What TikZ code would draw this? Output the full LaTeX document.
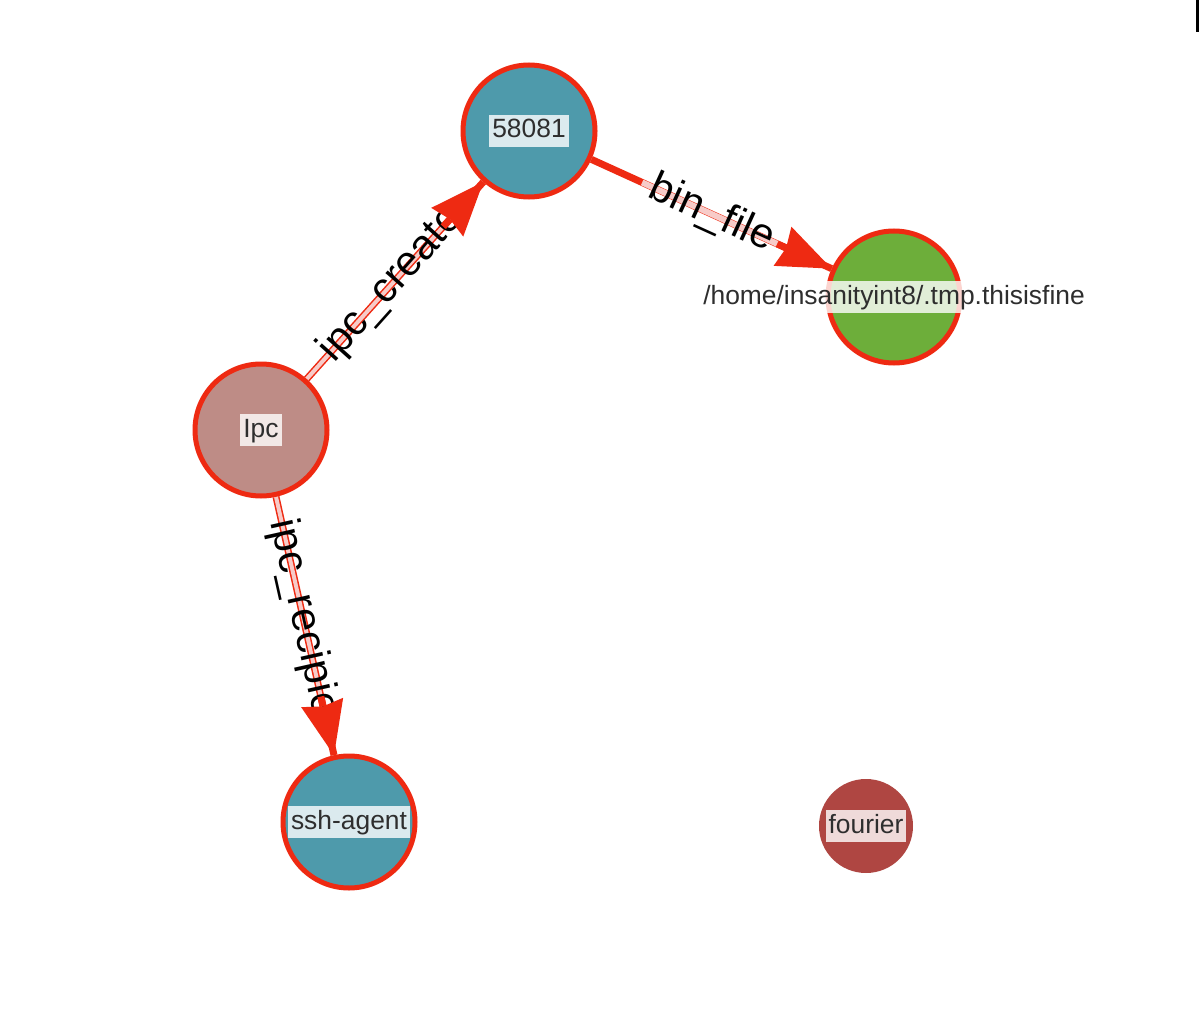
\documentclass[tikz,border=0pt]{standalone}
\usepackage{fontspec}
\setmainfont{Liberation Sans}
\usetikzlibrary{arrows.meta,calc}
\definecolor{edgered}{HTML}{EE2A12}
\definecolor{nodeteal}{HTML}{4E9AAB}
\definecolor{nodegreen}{HTML}{6DAE3A}
\definecolor{nodeipc}{HTML}{BE8C86}
\definecolor{nodefourier}{HTML}{AF4642}
\definecolor{bandpink}{HTML}{F7CBC8}
\definecolor{labelgray}{HTML}{2E2E2E}
\begin{document}
\begin{tikzpicture}[x=1pt,y=-1pt,
  vert/.style={circle, draw=edgered, line width=5pt, minimum size=132pt, inner sep=0pt},
  lbl/.style={fill=white, fill opacity=0.8, text opacity=1, text=labelgray,
    font=\fontsize{26.4}{30}\selectfont, inner xsep=3pt, inner ysep=3pt,
    text height=20pt, text depth=6pt},
  edgeline/.style={draw=edgered, line width=7pt},
  band/.style={draw=bandpink, line width=4pt},
  elabel/.style={font=\fontsize{42}{48}\selectfont, text=black, inner sep=0pt, sloped},
  tip/.style={draw=edgered, fill=edgered, line width=7pt,
    -{Stealth[length=54pt,width=43pt,inset=4pt,line width=0pt]}}
]
\useasboundingbox (0,0) rectangle (1200,1022);
\fill[white] (0,0) rectangle (1200,1022);
\draw[line width=2.5pt] (1197.5,0) -- (1197.5,32);

% node positions (drawn later, placed first as coordinates)
\path (529,131) coordinate (c58081)
      (894,297) coordinate (cfile)
      (261,430) coordinate (cipc)
      (349,822) coordinate (cssh);

% nodes (invisible placeholders for edge routing)
\node[vert, draw=none] (n58081) at (c58081) {};
\node[vert, draw=none] (file) at (cfile) {};
\node[vert, draw=none] (ipc) at (cipc) {};
\node[vert, draw=none] (ssh) at (cssh) {};

% edges
\draw[edgeline] (ipc) -- (n58081);
\draw[edgeline] (n58081) -- (file);
\draw[edgeline] (ipc) -- (ssh);

% label bands
\draw[band] ($(cipc)!0.17!(c58081)$) -- ($(cipc)!0.72!(c58081)$);
\draw[band] ($(cipc)!0.17!(cssh)$) -- ($(cipc)!0.72!(cssh)$);
\draw[band, line width=6pt] ($(c58081)!0.31!(cfile)$) -- ($(c58081)!0.69!(cfile)$);

% edge labels
\path (ipc) -- node[elabel, pos=0.48] (lcreator) {ipc\_creato} (n58081);
\path (n58081) -- node[elabel] (lbin) {bin\_file} (file);
\path (ipc) -- node[elabel, pos=0.47] (lrecip) {ipc\_recipie} (ssh);

% arrow heads
\coordinate (a1) at ($(cipc)!0.68!(c58081)$);
\coordinate (a2) at ($(c58081)!0.68!(cfile)$);
\coordinate (a3) at ($(cipc)!0.68!(cssh)$);
\draw[tip] (a1) -- (n58081);
\draw[tip] (a2) -- (file);
\draw[tip] (a3) -- (ssh);

% visible nodes
\node[vert, fill=nodeteal, label={[lbl]center:58081}] at (c58081) {};
\node[vert, fill=nodegreen, label={[lbl]center:/home/insanityint8/.tmp.thisisfine}] at (cfile) {};
\node[vert, fill=nodeipc, label={[lbl]center:Ipc}] at (cipc) {};
\node[vert, fill=nodeteal, label={[lbl]center:ssh-agent}] at (cssh) {};
\node[circle, fill=nodefourier, minimum size=94pt, inner sep=0pt,
  label={[lbl]center:fourier}] (fourier) at (866,826) {};
\end{tikzpicture}
\end{document}
